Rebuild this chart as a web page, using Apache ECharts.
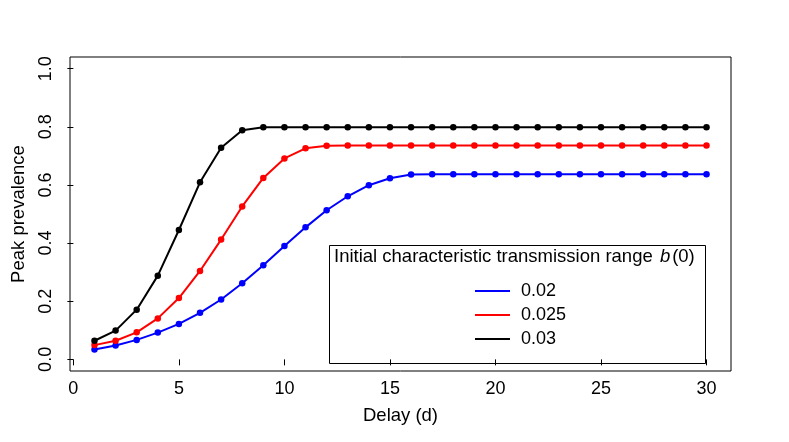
<!DOCTYPE html>
<html>
<head>
<meta charset="utf-8">
<script src="https://cdn.jsdelivr.net/npm/echarts@6/dist/echarts.min.js"></script>
<style>
  html, body { margin: 0; padding: 0; background: #fff; }
  #chart { width: 789px; height: 442px; }
</style>
</head>
<body>
<div id="chart"></div>
<script>
var delays = [1, 2, 3, 4, 5, 6, 7, 8, 9, 10, 11, 12, 13, 14, 15, 16, 17, 18, 19, 20, 21, 22, 23, 24, 25, 26, 27, 28, 29, 30];
var seriesNames = ['0.02', '0.025', '0.03'];
var blueVals = [0.034, 0.048, 0.067, 0.092, 0.122, 0.160, 0.206, 0.262, 0.324, 0.390, 0.454, 0.513, 0.561, 0.599, 0.623, 0.636,
    0.637, 0.637, 0.637, 0.637, 0.637, 0.637, 0.637, 0.637, 0.637, 0.637, 0.637, 0.637, 0.637, 0.637];
var redVals = [0.049, 0.064, 0.093, 0.141, 0.211, 0.304, 0.412, 0.526, 0.624, 0.691, 0.726, 0.735,
    0.736, 0.736, 0.736, 0.736, 0.736, 0.736, 0.736, 0.736, 0.736, 0.736, 0.736, 0.736, 0.736, 0.736, 0.736, 0.736, 0.736, 0.736];
var blackVals = [0.064, 0.099, 0.171, 0.288, 0.445, 0.609, 0.728, 0.788,
    0.798, 0.798, 0.798, 0.798, 0.798, 0.798, 0.798, 0.798, 0.798, 0.798, 0.798, 0.798, 0.798, 0.798, 0.798, 0.798, 0.798, 0.798, 0.798, 0.798, 0.798, 0.798];
var xTicks = [0, 5, 10, 15, 20, 25, 30];
var yTicks = [0, 0.2, 0.4, 0.6, 0.8, 1.0];

var font = 'Liberation Sans, Arial, sans-serif';

function pairs(vals) {
    return vals.map(function (v, i) { return [delays[i], v]; });
}

function makeSeries(name, vals, color) {
    return {
        name: name,
        type: 'line',
        data: pairs(vals),
        symbol: 'circle',
        symbolSize: 6.5,
        lineStyle: {color: color, width: 2},
        itemStyle: {color: color},
        animation: false
    };
}

var myChart = echarts.init(document.getElementById('chart'));
var option = {
    backgroundColor: '#fff',
    grid: {
        left: 70, right: 58, top: 57, bottom: 71,
        outerBoundsMode: 'none',
        show: true, borderColor: '#000', borderWidth: 1
    },
    xAxis: {
        type: 'value',
        min: -0.16, max: 31.16,
        name: 'Delay (d)', nameLocation: 'middle', nameGap: 35,
        nameTextStyle: {fontFamily: font, fontSize: 18.5, color: '#000'},
        axisLine: {show: false},
        splitLine: {show: false},
        axisTick: {show: true, length: 6, customValues: xTicks, lineStyle: {color: '#000'}},
        axisLabel: {customValues: xTicks, margin: 9, fontFamily: font, fontSize: 18, color: '#000'}
    },
    yAxis: {
        type: 'value',
        min: -0.04, max: 1.04,
        name: 'Peak prevalence', nameLocation: 'middle', nameGap: 42,
        nameTextStyle: {fontFamily: font, fontSize: 18.5, color: '#000'},
        axisLine: {show: false},
        splitLine: {show: false},
        axisTick: {show: true, length: 6, customValues: yTicks, lineStyle: {color: '#000'}},
        axisLabel: {
            customValues: yTicks, rotate: 90, margin: 15,
            fontFamily: font, fontSize: 18, color: '#000',
            formatter: function (v) { return v.toFixed(1); }
        }
    },
    legend: {
        orient: 'vertical',
        left: 470, top: 277,
        data: seriesNames,
        icon: 'rect',
        itemWidth: 35, itemHeight: 2,
        itemGap: 6,
        textStyle: {fontFamily: font, fontSize: 18, color: '#000', padding: [0, 0, 0, 6]}
    },
    graphic: [
        {
            type: 'rect', left: 327, top: 243, z: 10,
            shape: {width: 376, height: 118},
            style: {fill: 'none', stroke: '#000', lineWidth: 1}
        },
        {
            type: 'text', left: 334, top: 247, z: 10,
            style: {
                text: '{n|Initial characteristic transmission range }{i|b}{n|(0)}',
                rich: {
                    n: {fontFamily: font, fontSize: 18.5, fill: '#000'},
                    i: {fontFamily: font, fontSize: 18.5, fontStyle: 'italic', fill: '#000', padding: [0, 2, 0, 2]}
                }
            }
        }
    ],
    series: [
        makeSeries(seriesNames[0], blueVals, '#0000ff'),
        makeSeries(seriesNames[1], redVals, '#ff0000'),
        makeSeries(seriesNames[2], blackVals, '#000000')
    ]
};
myChart.setOption(option);
</script>
</body>
</html>
